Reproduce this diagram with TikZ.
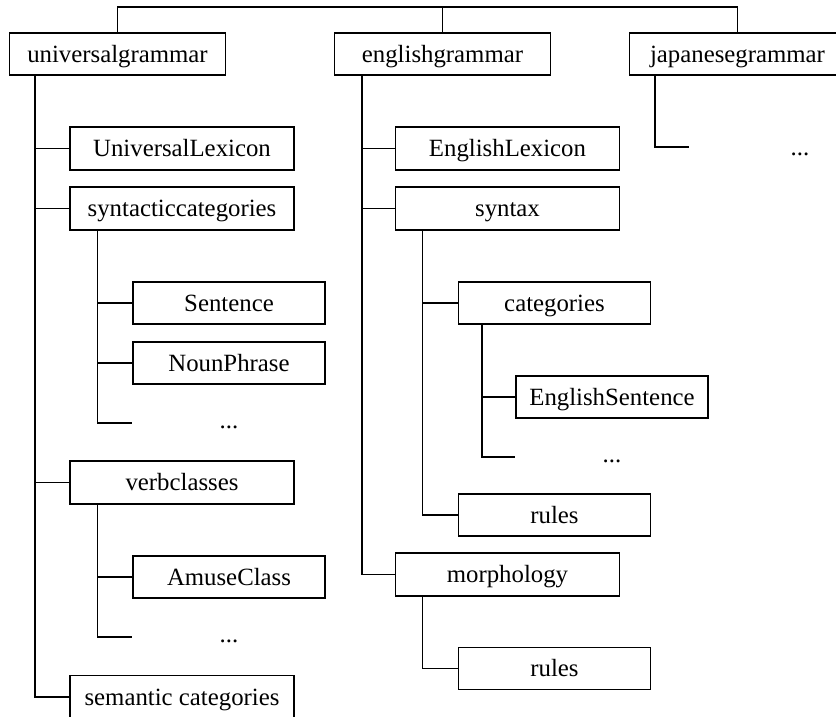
\documentclass[tikz,border=0pt]{standalone}
\usepackage{fontspec}
\setmainfont{Liberation Serif}
\usetikzlibrary{calc}
\begin{document}
\begin{tikzpicture}[x=0.75pt,y=-0.75pt,
  line width=0.8pt,
  every node/.style={font=\fontsize{18.6}{22}\selectfont, inner sep=0pt,
    text height=12.4pt, text depth=0pt},
  topbox/.style={draw, rectangle, minimum width=162pt, minimum height=31.5pt},
  midbox/.style={draw, rectangle, minimum width=168pt, minimum height=32.25pt},
  leafbox/.style={draw, rectangle, minimum width=144pt, minimum height=31.5pt},
  more/.style={rectangle, minimum width=144pt, minimum height=31.5pt},
  tree/.style={line width=0.8pt}]
\clip (0,0) rectangle (836,717);

% top level grammars
\node[topbox] (ug) at (117.5,54) {universalgrammar};
\node[topbox] (eg) at (442.5,54) {englishgrammar};
\node[topbox] (jg) at (737.5,54) {japanesegrammar};
\coordinate (bus) at (0,7);
\draw[tree] (ug.north) -- (ug.north |- bus) -- (jg.north |- bus) -- (jg.north);
\draw[tree] (eg.north) -- (eg.north |- bus);

% universal grammar branch
\node[midbox] (ul) at (182,148.5) {UniversalLexicon};
\node[midbox] (sc) at (182,208.5) {syntacticcategories};
\node[leafbox] (sen) at (229,303) {Sentence};
\node[leafbox] (np) at (229,363) {NounPhrase};
\node[more] (ud1) at (229,423) {\raisebox{2pt}{...}};
\node[midbox] (vc) at (182,482.5) {verbclasses};
\node[leafbox] (ac) at (229,577) {AmuseClass};
\node[more] (ud2) at (229,637) {\raisebox{2pt}{...}};
\node[midbox] (sem) at (182,697) {semantic categories};

\draw[tree] ($(ug.south west)+(26,0)$) |- (sem.west);
\foreach \c in {ul,sc,vc}
  \draw[tree] ($(ug.south west)+(26,0)$) |- (\c.west);
\draw[tree] ($(sc.south west)+(28,0)$) |- (ud1.west);
\foreach \c in {sen,np}
  \draw[tree] ($(sc.south west)+(28,0)$) |- (\c.west);
\draw[tree] ($(vc.south west)+(28,0)$) |- (ud2.west);
\draw[tree] ($(vc.south west)+(28,0)$) |- (ac.west);

% english grammar branch
\node[midbox] (el) at (507.5,148.5) {EnglishLexicon};
\node[midbox] (syn) at (507.5,208.5) {syntax};
\node[leafbox] (cat) at (554.5,303) {categories};
\node[leafbox] (es) at (612,397) {EnglishSentence};
\node[more] (ed1) at (612,457) {\raisebox{2pt}{...}};
\node[leafbox] (r1) at (554.5,515) {rules};
\node[midbox] (mor) at (507.5,574.5) {morphology};
\node[leafbox] (r2) at (554.5,668.5) {rules};

\draw[tree] ($(eg.south west)+(28,0)$) |- (mor.west);
\foreach \c in {el,syn}
  \draw[tree] ($(eg.south west)+(28,0)$) |- (\c.west);
\draw[tree] ($(syn.south west)+(27.5,0)$) |- (r1.west);
\draw[tree] ($(syn.south west)+(27.5,0)$) |- (cat.west);
\draw[tree] ($(cat.south west)+(24,0)$) |- (ed1.west);
\draw[tree] ($(cat.south west)+(24,0)$) |- (es.west);
\draw[tree] ($(mor.south west)+(27.5,0)$) |- (r2.west);

% japanese grammar branch
\node[more, minimum width=165pt] (jd1) at (800,147) {...};
\draw[tree] ($(jg.south west)+(26,0)$) |- (jd1.west);
\end{tikzpicture}
\end{document}
